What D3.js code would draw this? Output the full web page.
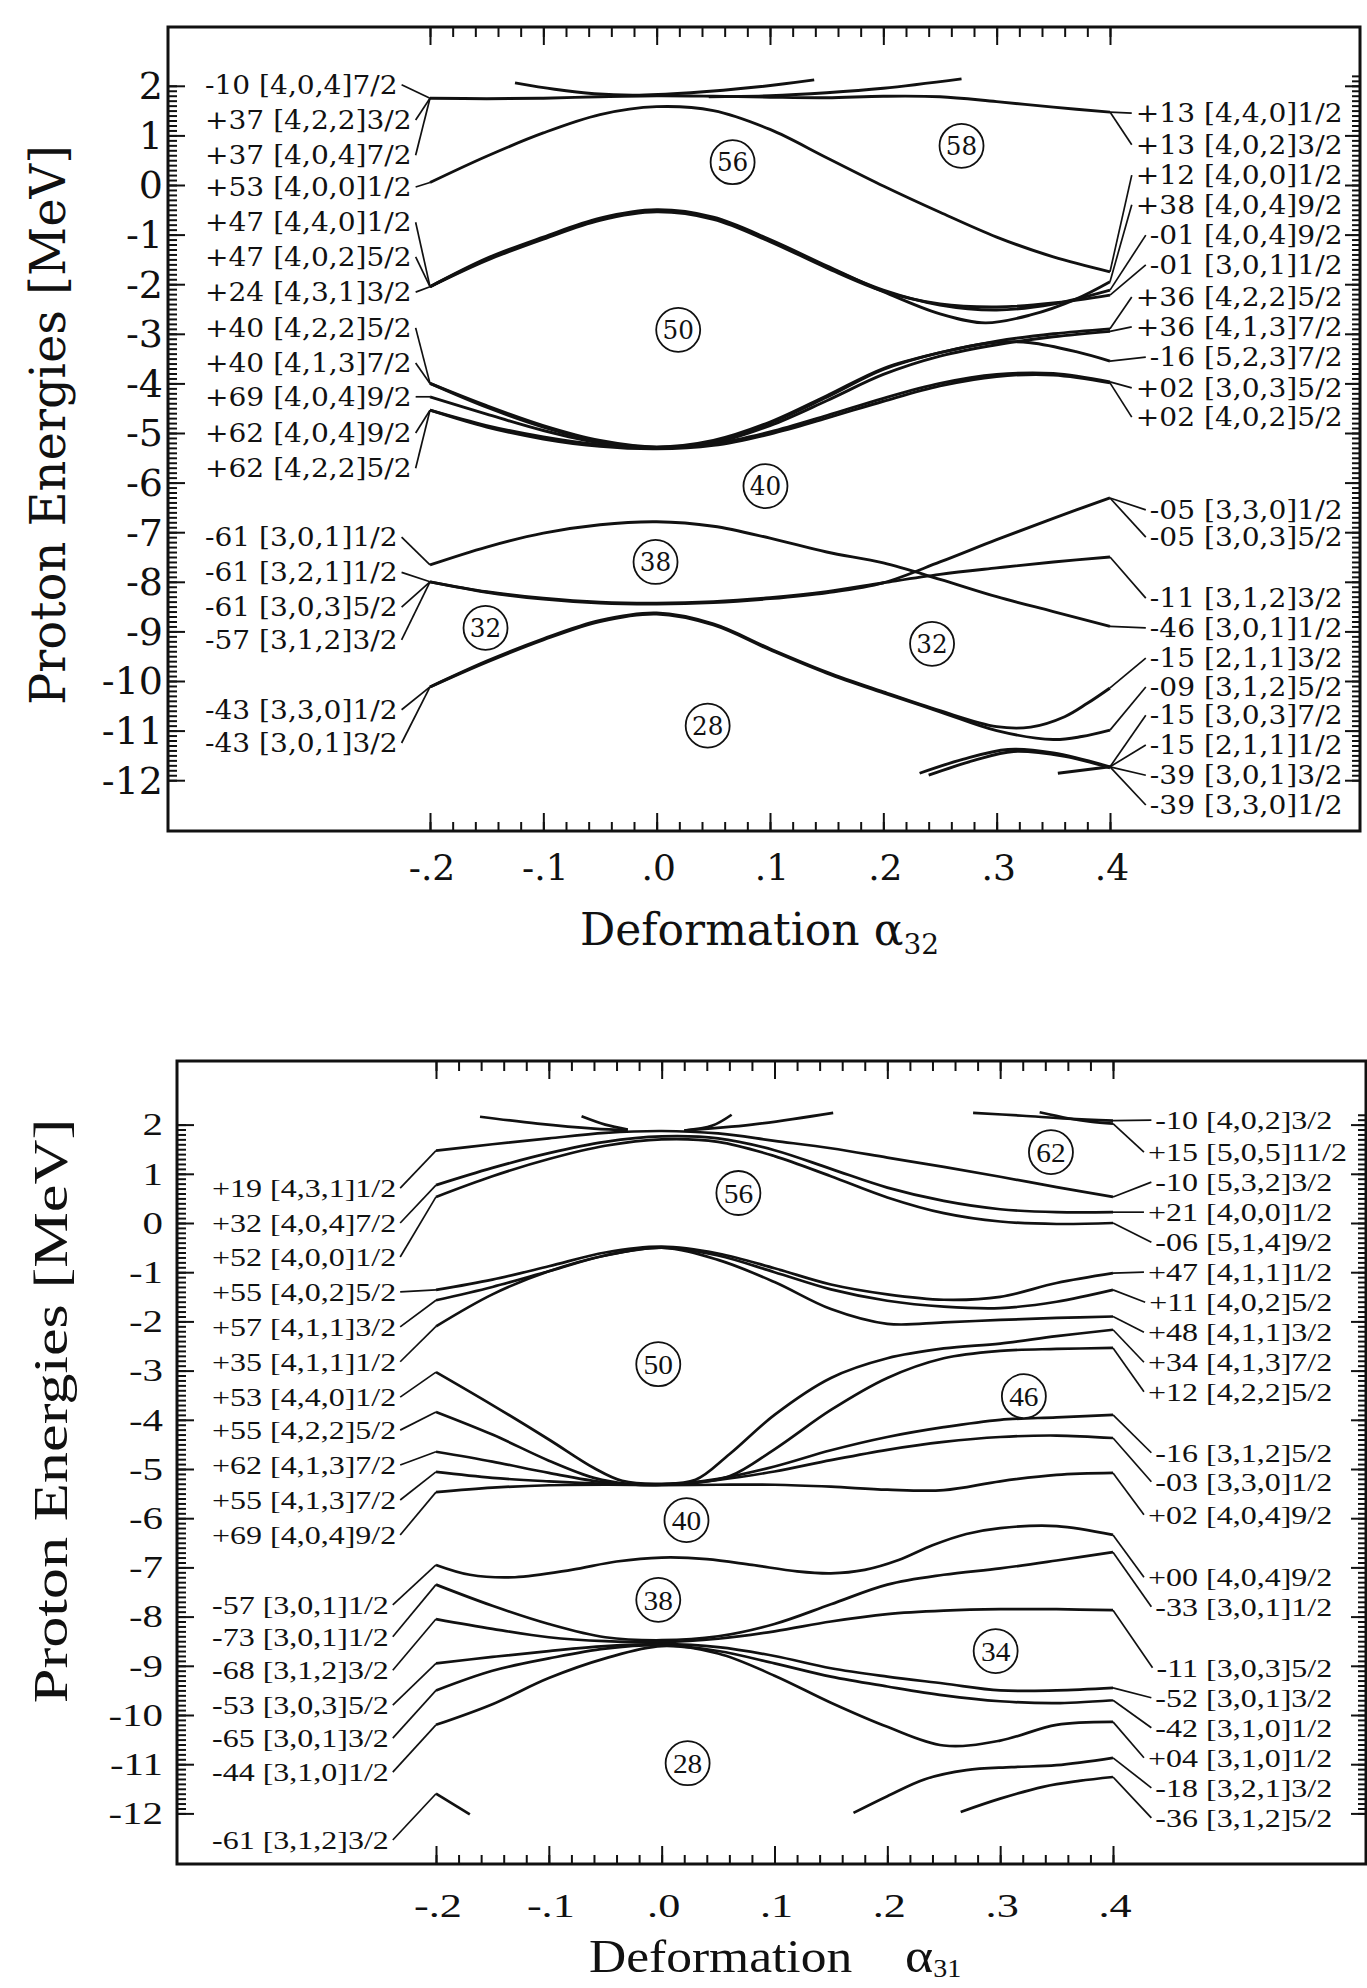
<!DOCTYPE html>
<html>
<meta charset="utf-8">
<style>
body { margin: 0; background: #fff; }
svg { display: block; }
</style>
<script src="https://d3js.org/d3.v7.min.js"></script>
<body>
<svg id="chart" width="1367" height="1988"></svg>
<script>
// ---- shared axis values ----
var xTickVals = [-0.2, -0.1, 0, 0.1, 0.2, 0.3, 0.4];
var xTickText = ["-.2", "-.1", ".0", ".1", ".2", ".3", ".4"];
var yTickVals = [2, 1, 0, -1, -2, -3, -4, -5, -6, -7, -8, -9, -10, -11, -12];

// ---- alpha32 panel: single-particle levels [alpha, E] ----
var a32Curves = [
  [[-0.2,1.75],[-0.15,1.74],[-0.1,1.75],[-0.05,1.78],[0,1.8],[0.05,1.79],[0.1,1.77],[0.15,1.76],[0.2,1.79],[0.25,1.78],[0.3,1.68],[0.35,1.57],[0.4,1.47]],
  [[-0.125,2.06],[-0.09,1.93],[-0.055,1.84],[-0.02,1.81],[0.03,1.86],[0.09,1.98],[0.139,2.12]],
  [[0.046,1.78],[0.1,1.8],[0.15,1.86],[0.2,1.95],[0.269,2.14]],
  [[-0.2,0.05],[-0.15,0.58],[-0.1,1.05],[-0.05,1.42],[0,1.58],[0.05,1.5],[0.1,1.12],[0.15,0.55],[0.2,-0.02],[0.25,-0.55],[0.3,-1.05],[0.35,-1.45],[0.4,-1.75]],
  [[-0.2,-2.05],[-0.15,-1.48],[-0.1,-1.05],[-0.05,-0.67],[0,-0.5],[0.05,-0.65],[0.1,-1.1],[0.15,-1.63],[0.2,-2.15],[0.25,-2.6],[0.29,-2.78],[0.33,-2.62],[0.37,-2.3],[0.4,-1.95]],
  [[-0.2,-2.05],[-0.15,-1.5],[-0.1,-1.07],[-0.05,-0.69],[0,-0.52],[0.05,-0.67],[0.1,-1.12],[0.15,-1.65],[0.2,-2.12],[0.25,-2.42],[0.3,-2.52],[0.35,-2.4],[0.4,-2.12]],
  [[-0.2,-2.05],[-0.15,-1.52],[-0.1,-1.09],[-0.05,-0.71],[0,-0.54],[0.05,-0.69],[0.1,-1.14],[0.15,-1.67],[0.2,-2.14],[0.25,-2.4],[0.3,-2.46],[0.35,-2.38],[0.4,-2.22]],
  [[-0.2,-4.0],[-0.15,-4.45],[-0.1,-4.85],[-0.05,-5.15],[0,-5.28],[0.05,-5.15],[0.1,-4.78],[0.15,-4.25],[0.2,-3.7],[0.25,-3.38],[0.3,-3.15],[0.35,-3.0],[0.4,-2.9]],
  [[-0.2,-4.0],[-0.15,-4.48],[-0.1,-4.88],[-0.05,-5.17],[0,-5.29],[0.05,-5.17],[0.1,-4.8],[0.15,-4.28],[0.2,-3.72],[0.25,-3.38],[0.3,-3.17],[0.33,-3.18],[0.37,-3.36],[0.4,-3.55]],
  [[-0.2,-4.27],[-0.15,-4.62],[-0.1,-4.95],[-0.05,-5.2],[0,-5.3],[0.05,-5.2],[0.1,-4.85],[0.15,-4.35],[0.2,-3.82],[0.25,-3.45],[0.3,-3.22],[0.35,-3.06],[0.4,-2.95]],
  [[-0.2,-4.54],[-0.15,-4.85],[-0.1,-5.08],[-0.05,-5.24],[0,-5.3],[0.05,-5.22],[0.1,-4.98],[0.15,-4.65],[0.2,-4.3],[0.25,-4.0],[0.3,-3.82],[0.35,-3.8],[0.4,-3.97]],
  [[-0.2,-4.54],[-0.15,-4.88],[-0.1,-5.12],[-0.05,-5.27],[0,-5.32],[0.05,-5.25],[0.1,-5.02],[0.15,-4.7],[0.2,-4.36],[0.25,-4.05],[0.3,-3.86],[0.35,-3.83],[0.4,-3.99]],
  [[-0.2,-7.66],[-0.15,-7.3],[-0.1,-7.02],[-0.05,-6.85],[0,-6.79],[0.05,-6.88],[0.1,-7.12],[0.15,-7.4],[0.2,-7.62],[0.25,-7.95],[0.3,-8.3],[0.35,-8.6],[0.4,-8.9]],
  [[-0.2,-8.0],[-0.15,-8.2],[-0.1,-8.33],[-0.05,-8.41],[0,-8.43],[0.05,-8.4],[0.1,-8.32],[0.15,-8.2],[0.2,-8.02],[0.25,-7.85],[0.3,-7.72],[0.35,-7.6],[0.4,-7.5]],
  [[-0.2,-8.0],[-0.15,-8.21],[-0.1,-8.35],[-0.05,-8.43],[0,-8.45],[0.05,-8.42],[0.1,-8.34],[0.15,-8.22],[0.2,-8.02],[0.25,-7.6],[0.3,-7.15],[0.35,-6.72],[0.4,-6.31]],
  [[-0.2,-10.12],[-0.15,-9.6],[-0.1,-9.15],[-0.05,-8.78],[0,-8.63],[0.05,-8.85],[0.1,-9.35],[0.15,-9.82],[0.2,-10.22],[0.25,-10.6],[0.3,-10.92],[0.33,-10.93],[0.36,-10.72],[0.38,-10.45],[0.4,-10.14]],
  [[-0.2,-10.12],[-0.15,-9.62],[-0.1,-9.17],[-0.05,-8.8],[0,-8.65],[0.05,-8.87],[0.1,-9.37],[0.15,-9.84],[0.2,-10.24],[0.25,-10.62],[0.3,-11.0],[0.35,-11.18],[0.375,-11.12],[0.4,-10.99]],
  [[0.232,-11.86],[0.27,-11.58],[0.31,-11.38],[0.35,-11.45],[0.4,-11.73]],
  [[0.24,-11.9],[0.28,-11.6],[0.315,-11.42],[0.36,-11.52],[0.4,-11.75]],
  [[0.354,-11.86],[0.4,-11.73]]
];
// [label, label level E, level it points to E]
var a32Left = [
  ["-10 [4,0,4]7/2", 2.02, 1.75], ["+37 [4,2,2]3/2", 1.31, 1.75], ["+37 [4,0,4]7/2", 0.60, 1.75],
  ["+53 [4,0,0]1/2", -0.04, 0.05], ["+47 [4,4,0]1/2", -0.75, -2.05], ["+47 [4,0,2]5/2", -1.45, -2.05],
  ["+24 [4,3,1]3/2", -2.16, -2.05], ["+40 [4,2,2]5/2", -2.88, -4.0], ["+40 [4,1,3]7/2", -3.59, -4.0],
  ["+69 [4,0,4]9/2", -4.27, -4.27], ["+62 [4,0,4]9/2", -5.00, -4.54], ["+62 [4,2,2]5/2", -5.71, -4.54],
  ["-61 [3,0,1]1/2", -7.10, -7.66], ["-61 [3,2,1]1/2", -7.81, -8.0], ["-61 [3,0,3]5/2", -8.51, -8.0],
  ["-57 [3,1,2]3/2", -9.17, -8.0], ["-43 [3,3,0]1/2", -10.58, -10.12], ["-43 [3,0,1]3/2", -11.25, -10.12]
];
// [sign+number, orbital, label level E, level it points to E]
var a32Right = [
  ["+13", "[4,4,0]1/2", 1.45, 1.47], ["+13", "[4,0,2]3/2", 0.81, 1.47], ["+12", "[4,0,0]1/2", 0.20, -1.75],
  ["+38", "[4,0,4]9/2", -0.40, -1.95], ["-01", "[4,0,4]9/2", -1.01, -2.12], ["-01", "[3,0,1]1/2", -1.61, -2.22],
  ["+36", "[4,2,2]5/2", -2.26, -2.9], ["+36", "[4,1,3]7/2", -2.86, -2.95], ["-16", "[5,2,3]7/2", -3.47, -3.55],
  ["+02", "[3,0,3]5/2", -4.09, -3.97], ["+02", "[4,0,2]5/2", -4.68, -3.99],
  ["-05", "[3,3,0]1/2", -6.55, -6.31], ["-05", "[3,0,3]5/2", -7.10, -6.31],
  ["-11", "[3,1,2]3/2", -8.33, -7.5], ["-46", "[3,0,1]1/2", -8.93, -8.9],
  ["-15", "[2,1,1]3/2", -9.54, -10.14], ["-09", "[3,1,2]5/2", -10.12, -10.99],
  ["-15", "[3,0,3]7/2", -10.69, -11.73], ["-15", "[2,1,1]1/2", -11.29, -11.73],
  ["-39", "[3,0,1]3/2", -11.90, -11.73], ["-39", "[3,3,0]1/2", -12.50, -11.73]
];
// magic numbers [text, alpha, E]
var a32Gaps = [["56",0.067,0.46],["58",0.269,0.79],["50",0.019,-2.92],["40",0.096,-6.07],
  ["38",-0.001,-7.6],["32",-0.151,-8.93],["32",0.243,-9.25],["28",0.045,-10.9]];

// ---- alpha31 panel ----
var a31Curves = [
  [[-0.2,1.47],[-0.15,1.6],[-0.1,1.72],[-0.05,1.83],[0,1.87],[0.05,1.82],[0.1,1.67],[0.15,1.52],[0.2,1.33],[0.25,1.14],[0.3,0.94],[0.35,0.73],[0.4,0.53]],
  [[-0.2,0.77],[-0.15,1.12],[-0.1,1.42],[-0.05,1.65],[0,1.76],[0.05,1.72],[0.1,1.48],[0.15,1.1],[0.2,0.72],[0.25,0.45],[0.3,0.28],[0.35,0.22],[0.4,0.22]],
  [[-0.2,0.53],[-0.15,0.95],[-0.1,1.3],[-0.05,1.57],[0,1.7],[0.05,1.65],[0.1,1.36],[0.15,0.95],[0.2,0.52],[0.25,0.2],[0.3,0.03],[0.35,-0.02],[0.4,0.0]],
  [[-0.161,2.16],[-0.11,2.02],[-0.06,1.92],[-0.03,1.89]],
  [[-0.071,2.17],[-0.05,2.0],[-0.03,1.9]],
  [[0.02,1.88],[0.045,1.98],[0.062,2.2]],
  [[0.02,1.88],[0.08,2.0],[0.152,2.24]],
  [[0.276,2.24],[0.32,2.18],[0.36,2.12],[0.4,2.08]],
  [[0.335,2.25],[0.36,2.13],[0.38,2.06],[0.4,2.02]],
  [[-0.2,-1.36],[-0.15,-1.15],[-0.1,-0.88],[-0.05,-0.6],[0,-0.48],[0.05,-0.62],[0.1,-0.92],[0.15,-1.25],[0.2,-1.45],[0.25,-1.56],[0.3,-1.5],[0.35,-1.22],[0.4,-1.02]],
  [[-0.2,-1.57],[-0.15,-1.3],[-0.1,-0.98],[-0.05,-0.66],[0,-0.5],[0.05,-0.66],[0.1,-1.0],[0.15,-1.35],[0.2,-1.58],[0.25,-1.7],[0.3,-1.73],[0.35,-1.6],[0.4,-1.36]],
  [[-0.2,-2.1],[-0.15,-1.45],[-0.1,-0.98],[-0.05,-0.66],[0,-0.5],[0.05,-0.75],[0.1,-1.2],[0.15,-1.75],[0.2,-2.05],[0.25,-2.02],[0.3,-1.97],[0.35,-1.93],[0.4,-1.9]],
  [[-0.2,-3.03],[-0.15,-3.7],[-0.1,-4.4],[-0.06,-4.98],[-0.035,-5.24],[0,-5.3],[0.03,-5.22],[0.06,-4.7],[0.1,-3.9],[0.15,-3.15],[0.2,-2.75],[0.25,-2.55],[0.3,-2.45],[0.35,-2.3],[0.4,-2.17]],
  [[-0.2,-3.84],[-0.15,-4.3],[-0.1,-4.83],[-0.06,-5.18],[-0.03,-5.3],[0.02,-5.3],[0.06,-5.15],[0.1,-4.6],[0.15,-3.8],[0.2,-3.15],[0.25,-2.75],[0.3,-2.6],[0.35,-2.56],[0.4,-2.54]],
  [[-0.2,-4.65],[-0.15,-4.85],[-0.1,-5.08],[-0.05,-5.27],[0,-5.32],[0.05,-5.2],[0.1,-4.95],[0.15,-4.62],[0.2,-4.35],[0.25,-4.15],[0.3,-4.0],[0.35,-3.95],[0.4,-3.9]],
  [[-0.2,-5.06],[-0.15,-5.18],[-0.1,-5.25],[-0.05,-5.3],[0,-5.32],[0.05,-5.22],[0.1,-5.05],[0.15,-4.82],[0.2,-4.61],[0.25,-4.45],[0.3,-4.35],[0.35,-4.32],[0.4,-4.37]],
  [[-0.2,-5.47],[-0.15,-5.38],[-0.1,-5.33],[-0.05,-5.32],[0,-5.33],[0.05,-5.32],[0.1,-5.32],[0.15,-5.36],[0.2,-5.42],[0.25,-5.43],[0.3,-5.25],[0.35,-5.12],[0.4,-5.08]],
  [[-0.2,-6.95],[-0.17,-7.15],[-0.13,-7.2],[-0.08,-7.05],[-0.04,-6.88],[0,-6.8],[0.04,-6.83],[0.08,-6.95],[0.12,-7.08],[0.15,-7.12],[0.18,-7.05],[0.21,-6.85],[0.24,-6.55],[0.27,-6.32],[0.3,-6.2],[0.35,-6.16],[0.4,-6.34]],
  [[-0.2,-7.35],[-0.15,-7.78],[-0.1,-8.15],[-0.05,-8.42],[0,-8.48],[0.05,-8.4],[0.1,-8.15],[0.15,-7.75],[0.2,-7.35],[0.25,-7.15],[0.3,-7.02],[0.35,-6.86],[0.4,-6.69]],
  [[-0.2,-8.05],[-0.15,-8.25],[-0.1,-8.42],[-0.05,-8.5],[0,-8.52],[0.05,-8.45],[0.1,-8.3],[0.15,-8.1],[0.2,-7.95],[0.25,-7.88],[0.3,-7.85],[0.35,-7.85],[0.4,-7.87]],
  [[-0.2,-8.95],[-0.15,-8.82],[-0.1,-8.7],[-0.05,-8.6],[0,-8.56],[0.05,-8.62],[0.1,-8.8],[0.15,-9.05],[0.2,-9.22],[0.25,-9.36],[0.3,-9.5],[0.35,-9.5],[0.4,-9.45]],
  [[-0.2,-9.5],[-0.15,-9.1],[-0.1,-8.85],[-0.05,-8.65],[0,-8.58],[0.05,-8.7],[0.1,-8.95],[0.15,-9.22],[0.2,-9.42],[0.25,-9.6],[0.3,-9.72],[0.35,-9.76],[0.4,-9.7]],
  [[-0.2,-10.2],[-0.15,-9.78],[-0.1,-9.25],[-0.05,-8.85],[0,-8.6],[0.05,-8.75],[0.1,-9.2],[0.15,-9.75],[0.2,-10.24],[0.25,-10.62],[0.3,-10.52],[0.35,-10.2],[0.4,-10.14]],
  [[-0.2,-11.6],[-0.17,-12.02]],
  [[0.17,-11.99],[0.2,-11.65],[0.234,-11.3],[0.27,-11.12],[0.31,-11.06],[0.35,-11.02],[0.4,-10.87]],
  [[0.265,-11.97],[0.3,-11.7],[0.338,-11.46],[0.37,-11.34],[0.4,-11.26]]
];
var a31Left = [
  ["+19 [4,3,1]1/2", 0.71, 1.47], ["+32 [4,0,4]7/2", 0.0, 0.77], ["+52 [4,0,0]1/2", -0.69, 0.53],
  ["+55 [4,0,2]5/2", -1.40, -1.36], ["+57 [4,1,1]3/2", -2.11, -1.57], ["+35 [4,1,1]1/2", -2.82, -2.1],
  ["+53 [4,4,0]1/2", -3.54, -3.03], ["+55 [4,2,2]5/2", -4.21, -3.84], ["+62 [4,1,3]7/2", -4.92, -4.65],
  ["+55 [4,1,3]7/2", -5.63, -5.06], ["+69 [4,0,4]9/2", -6.34, -5.47],
  ["-57 [3,0,1]1/2", -7.76, -6.95], ["-73 [3,0,1]1/2", -8.41, -7.35], ["-68 [3,1,2]3/2", -9.09, -8.05],
  ["-53 [3,0,3]5/2", -9.80, -8.95], ["-65 [3,0,1]3/2", -10.47, -9.5], ["-44 [3,1,0]1/2", -11.16, -10.2],
  ["-61 [3,1,2]3/2", -12.54, -11.6]
];
var a31Right = [
  ["-10", "[4,0,2]3/2", 2.09, 2.08], ["+15", "[5,0,5]11/2", 1.44, 2.02], ["-10", "[5,3,2]3/2", 0.83, 0.53],
  ["+21", "[4,0,0]1/2", 0.22, 0.22], ["-06", "[5,1,4]9/2", -0.39, 0.0], ["+47", "[4,1,1]1/2", -1.0, -1.02],
  ["+11", "[4,0,2]5/2", -1.61, -1.36], ["+48", "[4,1,1]3/2", -2.22, -1.9], ["+34", "[4,1,3]7/2", -2.83, -2.17],
  ["+12", "[4,2,2]5/2", -3.43, -2.54], ["-16", "[3,1,2]5/2", -4.67, -3.9], ["-03", "[3,3,0]1/2", -5.26, -4.37],
  ["+02", "[4,0,4]9/2", -5.93, -5.08], ["+00", "[4,0,4]9/2", -7.20, -6.34], ["-33", "[3,0,1]1/2", -7.80, -6.69],
  ["-11", "[3,0,3]5/2", -9.04, -7.87], ["-52", "[3,0,1]3/2", -9.65, -9.45], ["-42", "[3,1,0]1/2", -10.26, -9.7],
  ["+04", "[3,1,0]1/2", -10.87, -10.14], ["-18", "[3,2,1]3/2", -11.48, -10.87], ["-36", "[3,1,2]5/2", -12.09, -11.26]
];
var a31Gaps = [["62",0.345,1.44],["56",0.068,0.61],["50",-0.003,-2.87],["46",0.321,-3.52],
  ["40",0.022,-6.04],["38",-0.003,-7.66],["34",0.296,-8.7],["28",0.023,-10.98]];

// ---- layout ----
var svg = d3.select("#chart");

var topPanel = {
  frame: [168, 27, 1360, 831], xr: [430, 1110], yr: [780.2, 85.8],
  font: "'DejaVu Serif', serif", curveW: 2.9,
  yTick: {x: 163, size: 38, sx: 1}, xTick: {y: 880, size: 36, sx: 1},
  lab: {size: 26, sx: 1.08, left: 205, numEnd: 1195, rest: 1204},
  gap: {size: 26, sx: 0.95, r: 22},
  yTitle: {x: 48, y: 425, size: 48, sx: 1, text: "Proton Energies [MeV]"},
  curves: a32Curves, left: a32Left, right: a32Right, gaps: a32Gaps
};
var botPanel = {
  frame: [177, 1061, 1366, 1864], xr: [436, 1113], yr: [1813.4, 1124.6],
  font: "'Liberation Serif', 'Times New Roman', serif", curveW: 2.7,
  yTick: {x: 163, size: 31, sx: 1.32}, xTick: {y: 1917, size: 34, sx: 1.3},
  lab: {size: 25, sx: 1.28, left: 212, numEnd: 1198, rest: 1206},
  gap: {size: 28, sx: 1.05, r: 22},
  yTitle: {x: 50, y: 1411, size: 48, sx: 1.3, text: "Proton Energies [MeV]"},
  curves: a31Curves, left: a31Left, right: a31Right, gaps: a31Gaps
};

function txt(g, x, y, str, o) {
  var tf = "translate(" + x + "," + y + ")";
  if (o.rot) tf += " rotate(" + o.rot + ")";
  if (o.sx && o.sx !== 1) tf += " scale(" + o.sx + ",1)";
  return g.append("text")
    .attr("transform", tf)
    .attr("text-anchor", o.anchor || "start")
    .attr("dy", o.dy == null ? "0.35em" : o.dy)
    .style("font-family", o.font)
    .style("font-size", o.size + "px")
    .attr("fill", "#111")
    .text(str);
}

function drawPanel(p) {
  var g = svg.append("g");
  var x = d3.scaleLinear().domain([-0.2, 0.4]).range(p.xr);
  var y = d3.scaleLinear().domain([-12, 2]).range(p.yr);
  var f = p.frame;

  g.append("rect")
    .attr("x", f[0]).attr("y", f[1])
    .attr("width", f[2] - f[0]).attr("height", f[3] - f[1])
    .attr("fill", "none").attr("stroke", "#111").attr("stroke-width", 3);

  // tick marks, all pointing inward
  var xMinor = d3.range(-10, 21).map(function(i) { return i / 50; });
  var yMinorL = d3.range(-120, 21).map(function(i) { return i / 10; });
  var yMinorR = d3.range(-120, 23).map(function(i) { return i / 10; });
  function tickAxis(axis, tf) {
    var a = g.append("g").attr("transform", tf).call(axis);
    a.select(".domain").remove();
    a.selectAll("line").attr("stroke", "#111").attr("stroke-width", 2);
  }
  tickAxis(d3.axisTop(x).tickValues(xMinor).tickSize(9).tickFormat(""), "translate(0," + f[3] + ")");
  tickAxis(d3.axisTop(x).tickValues(xTickVals).tickSize(18).tickFormat(""), "translate(0," + f[3] + ")");
  tickAxis(d3.axisBottom(x).tickValues(xMinor).tickSize(10).tickFormat(""), "translate(0," + f[1] + ")");
  tickAxis(d3.axisBottom(x).tickValues(xTickVals).tickSize(18).tickFormat(""), "translate(0," + f[1] + ")");
  tickAxis(d3.axisRight(y).tickValues(yMinorL).tickSize(9).tickFormat(""), "translate(" + f[0] + ",0)");
  tickAxis(d3.axisRight(y).tickValues(yTickVals).tickSize(17).tickFormat(""), "translate(" + f[0] + ",0)");
  tickAxis(d3.axisLeft(y).tickValues(yMinorR).tickSize(8).tickFormat(""), "translate(" + f[2] + ",0)");
  tickAxis(d3.axisLeft(y).tickValues(yTickVals).tickSize(15).tickFormat(""), "translate(" + f[2] + ",0)");

  // tick labels
  yTickVals.forEach(function(v) {
    txt(g, p.yTick.x, y(v), String(v), {font: p.font, size: p.yTick.size, sx: p.yTick.sx, anchor: "end"});
  });
  xTickVals.forEach(function(v, i) {
    txt(g, x(v) + 2, p.xTick.y, xTickText[i], {font: p.font, size: p.xTick.size, sx: p.xTick.sx, anchor: "middle", dy: 0});
  });
  txt(g, p.yTitle.x, p.yTitle.y, p.yTitle.text,
      {font: p.font, size: p.yTitle.size, sx: p.yTitle.sx, anchor: "middle", rot: -90});

  // levels
  var line = d3.line()
    .x(function(d) { return x(d[0]); })
    .y(function(d) { return y(d[1]); })
    .curve(d3.curveCatmullRom.alpha(0.5));
  g.append("g").selectAll("path").data(p.curves).enter().append("path")
    .attr("d", line)
    .attr("fill", "none").attr("stroke", "#111")
    .attr("stroke-width", p.curveW).attr("stroke-linejoin", "round");

  // left labels with leaders
  var lg = g.append("g");
  p.left.forEach(function(d) {
    var t = txt(lg, p.lab.left, y(d[1]), d[0], {font: p.font, size: p.lab.size, sx: p.lab.sx});
    var w = t.node().getComputedTextLength() * p.lab.sx;
    lg.append("line")
      .attr("x1", p.lab.left + w + 4).attr("y1", y(d[1]))
      .attr("x2", x(-0.2)).attr("y2", y(d[2]))
      .attr("stroke", "#111").attr("stroke-width", 1.7);
  });
  // right labels with leaders
  var rg = g.append("g");
  p.right.forEach(function(d) {
    var t = txt(rg, p.lab.numEnd, y(d[2]), d[0], {font: p.font, size: p.lab.size, sx: p.lab.sx, anchor: "end"});
    txt(rg, p.lab.rest, y(d[2]), d[1], {font: p.font, size: p.lab.size, sx: p.lab.sx});
    var w = t.node().getComputedTextLength() * p.lab.sx;
    rg.append("line")
      .attr("x1", x(0.4)).attr("y1", y(d[3]))
      .attr("x2", p.lab.numEnd - w - 4).attr("y2", y(d[2]))
      .attr("stroke", "#111").attr("stroke-width", 1.7);
  });

  // circled magic numbers
  var cg = g.append("g");
  p.gaps.forEach(function(d) {
    cg.append("circle").attr("cx", x(d[1])).attr("cy", y(d[2])).attr("r", p.gap.r)
      .attr("fill", "#fff").attr("stroke", "#111").attr("stroke-width", 1.8);
    txt(cg, x(d[1]), y(d[2]), d[0], {font: p.font, size: p.gap.size, sx: p.gap.sx, anchor: "middle"});
  });
}

drawPanel(topPanel);
drawPanel(botPanel);

// x-axis titles
var t1 = svg.append("text")
  .attr("x", 580).attr("y", 945)
  .style("font-family", "'DejaVu Serif', serif").style("font-size", "44px").attr("fill", "#111");
t1.append("tspan").text("Deformation \u03b1");
t1.append("tspan").attr("dy", 9).style("font-size", "28px").text("32");

txt(svg, 589, 1972, "Deformation",
    {font: "'Liberation Serif', serif", size: 46, sx: 1.12, dy: 0});
var t2 = txt(svg, 905, 1972, "\u03b1", {font: "'Liberation Serif', serif", size: 48, sx: 1.12, dy: 0});
t2.append("tspan").attr("dy", 5).style("font-size", "25px").text("31");
</script>
</body>
</html>
